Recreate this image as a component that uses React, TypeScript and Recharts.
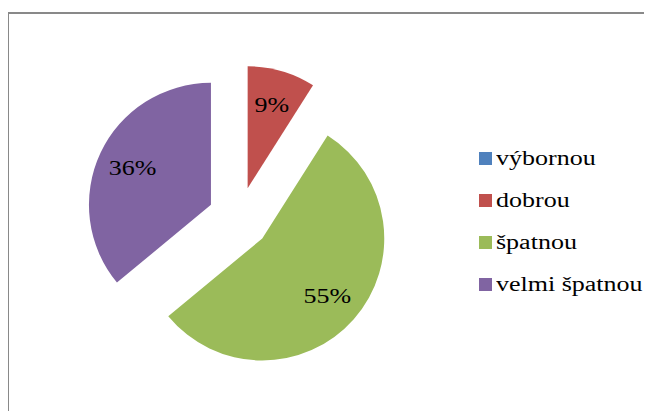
import { PieChart, Pie, Cell } from 'recharts';

const categories = ['výbornou', 'dobrou', 'špatnou', 'velmi špatnou'];
const shares = [0, 9, 55, 36];
const colors = ['#4F81BD', '#C0504D', '#9BBB59', '#8064A2'];

const data = categories.map((name, i) => ({ name, value: shares[i] }));

const CX = 239;
const CY = 218;
const R = 122;
const EXPLODE = 31;
const RAD = Math.PI / 180;
const total = shares.reduce((a, b) => a + b, 0);

// recharts angles: degrees counter-clockwise from 3 o'clock; slices run clockwise from 12 o'clock
const midAngles = shares.map((v, i) => {
  const before = shares.slice(0, i).reduce((a, b) => a + b, 0);
  return 90 - ((before + v / 2) / total) * 360;
});

const SERIF = "'Liberation Serif'";

function makeLabel(own: number) {
  return (props: any) => {
    if (props.index !== own || !props.value) return null;
    const r = props.outerRadius * 0.71;
    const x = props.cx + r * Math.cos(-props.midAngle * RAD);
    const y = props.cy + r * Math.sin(-props.midAngle * RAD);
    return (
      <text
        x={0}
        y={0}
        transform={`translate(${x},${y}) scale(1.3,1)`}
        textAnchor="middle"
        dominantBaseline="central"
        fill="#000"
        style={{ fontFamily: SERIF, fontSize: 20 }}
      >
        {Math.round(props.percent * 100)}%
      </text>
    );
  };
}

export default function App() {
  return (
    <div style={{ position: 'relative', width: 652, height: 419, margin: -8, overflow: 'hidden', background: '#fff' }}>
      {/* chart area frame, cut off at the right and bottom */}
      <div
        style={{
          position: 'absolute',
          left: 7,
          top: 12,
          width: 700,
          height: 500,
          borderLeft: '2px solid #898989',
          borderTop: '2px solid #898989',
        }}
      />
      <div style={{ position: 'absolute', left: 0, top: 0 }}>
        <PieChart width={652} height={419} margin={{ top: 0, right: 0, bottom: 0, left: 0 }}>
          {data.map((_, own) => (
            <Pie
              key={own}
              data={data}
              dataKey="value"
              nameKey="name"
              cx={CX + EXPLODE * Math.cos(-midAngles[own] * RAD)}
              cy={CY + EXPLODE * Math.sin(-midAngles[own] * RAD)}
              outerRadius={R}
              startAngle={90}
              endAngle={-270}
              stroke="none"
              label={makeLabel(own)}
              labelLine={false}
              isAnimationActive={false}
            >
              {data.map((_, i) => (
                <Cell key={i} fill={i === own ? colors[i] : 'transparent'} />
              ))}
            </Pie>
          ))}
        </PieChart>
      </div>
      {/* legend */}
      <div style={{ position: 'absolute', left: 479, top: 137, fontFamily: SERIF, fontSize: 20, color: '#000' }}>
        {categories.map((name, i) => (
          <div key={name} style={{ display: 'flex', alignItems: 'center', height: 42 }}>
            <div style={{ width: 13, height: 13, background: colors[i], marginRight: 4 }} />
            <span style={{ display: 'inline-block', transform: 'scaleX(1.3)', transformOrigin: 'left center', whiteSpace: 'nowrap' }}>
              {name}
            </span>
          </div>
        ))}
      </div>
    </div>
  );
}
